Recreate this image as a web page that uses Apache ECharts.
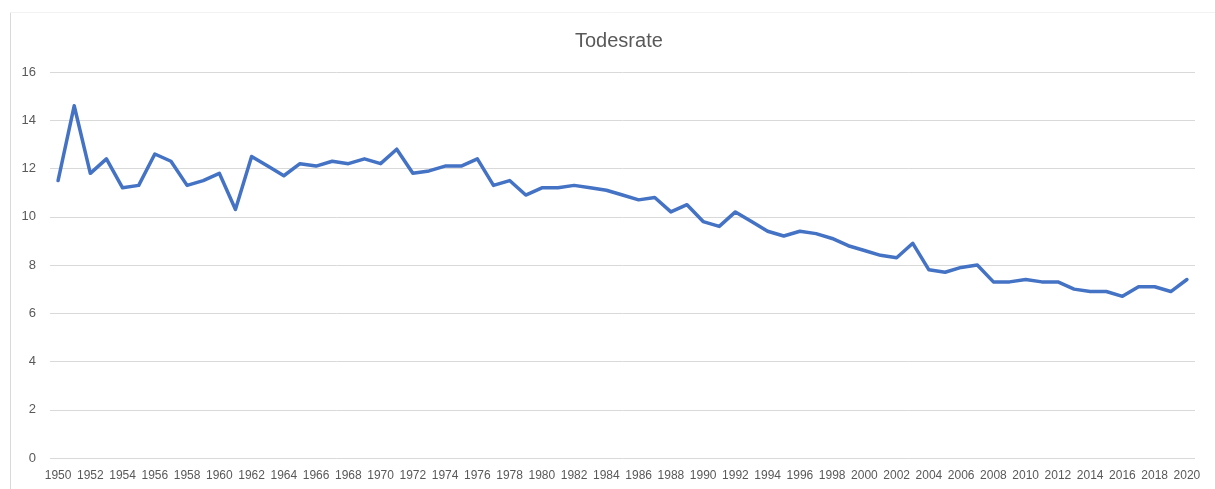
<!DOCTYPE html>
<html>
<head>
<meta charset="utf-8">
<script src="https://cdn.jsdelivr.net/npm/echarts@6/dist/echarts.min.js"></script>
<style>
html,body{margin:0;padding:0;background:#fff;}
#c{width:1215px;height:489px;}
</style>
</head>
<body>
<div id="c"></div>
<script>
const title = "Todesrate";
const years = [];
for (let y = 1950; y <= 2020; y++) years.push(String(y));
const deathRate = [
  11.5, 14.6, 11.8, 12.4, 11.2, 11.3, 12.6, 12.3, 11.3, 11.5,
  11.8, 10.3, 12.5, 12.1, 11.7, 12.2, 12.1, 12.3, 12.2, 12.4,
  12.2, 12.8, 11.8, 11.9, 12.1, 12.1, 12.4, 11.3, 11.5, 10.9,
  11.2, 11.2, 11.3, 11.2, 11.1, 10.9, 10.7, 10.8, 10.2, 10.5,
  9.8, 9.6, 10.2, 9.8, 9.4, 9.2, 9.4, 9.3, 9.1, 8.8,
  8.6, 8.4, 8.3, 8.9, 7.8, 7.7, 7.9, 8.0, 7.3, 7.3,
  7.4, 7.3, 7.3, 7.0, 6.9, 6.9, 6.7, 7.1, 7.1, 6.9,
  7.4
];
const yTicks = [0, 2, 4, 6, 8, 10, 12, 14, 16];

const chart = echarts.init(document.getElementById('c'), null, {renderer: 'canvas'});
const font = "'Liberation Sans', Arial, sans-serif";
chart.setOption({
  animation: false,
  backgroundColor: '#ffffff',
  title: {
    text: title,
    left: 570,
    top: 26,
    textStyle: {fontFamily: font, fontSize: 20, fontWeight: 'normal', color: '#595959'}
  },
  graphic: [
    {type: 'line', shape: {x1: 10.5, y1: 12, x2: 10.5, y2: 489}, style: {stroke: '#d9d9d9', lineWidth: 1}, silent: true},
    {type: 'line', shape: {x1: 10, y1: 12.5, x2: 1215, y2: 12.5}, style: {stroke: '#f2f2f2', lineWidth: 1}, silent: true}
  ],
  grid: {left: 50, right: 20, top: 72, bottom: 31, containLabel: false},
  xAxis: {
    type: 'category',
    data: years,
    boundaryGap: true,
    axisLine: {show: false},
    axisTick: {show: false},
    splitLine: {show: false},
    axisLabel: {interval: 1, margin: 12, fontFamily: font, fontSize: 12, color: '#595959'}
  },
  yAxis: {
    type: 'value',
    min: yTicks[0],
    max: yTicks[yTicks.length - 1],
    interval: 2,
    axisLine: {show: false},
    axisTick: {show: false},
    splitLine: {show: true, lineStyle: {color: '#d9d9d9', width: 1}},
    axisLabel: {margin: 14, fontFamily: font, fontSize: 13, color: '#595959'}
  },
  series: [{
    type: 'line',
    name: title,
    data: deathRate,
    symbol: 'none',
    smooth: false,
    lineStyle: {color: '#4472C4', width: 3.5, cap: 'round', join: 'round'},
    itemStyle: {color: '#4472C4'}
  }]
});
</script>
</body>
</html>
